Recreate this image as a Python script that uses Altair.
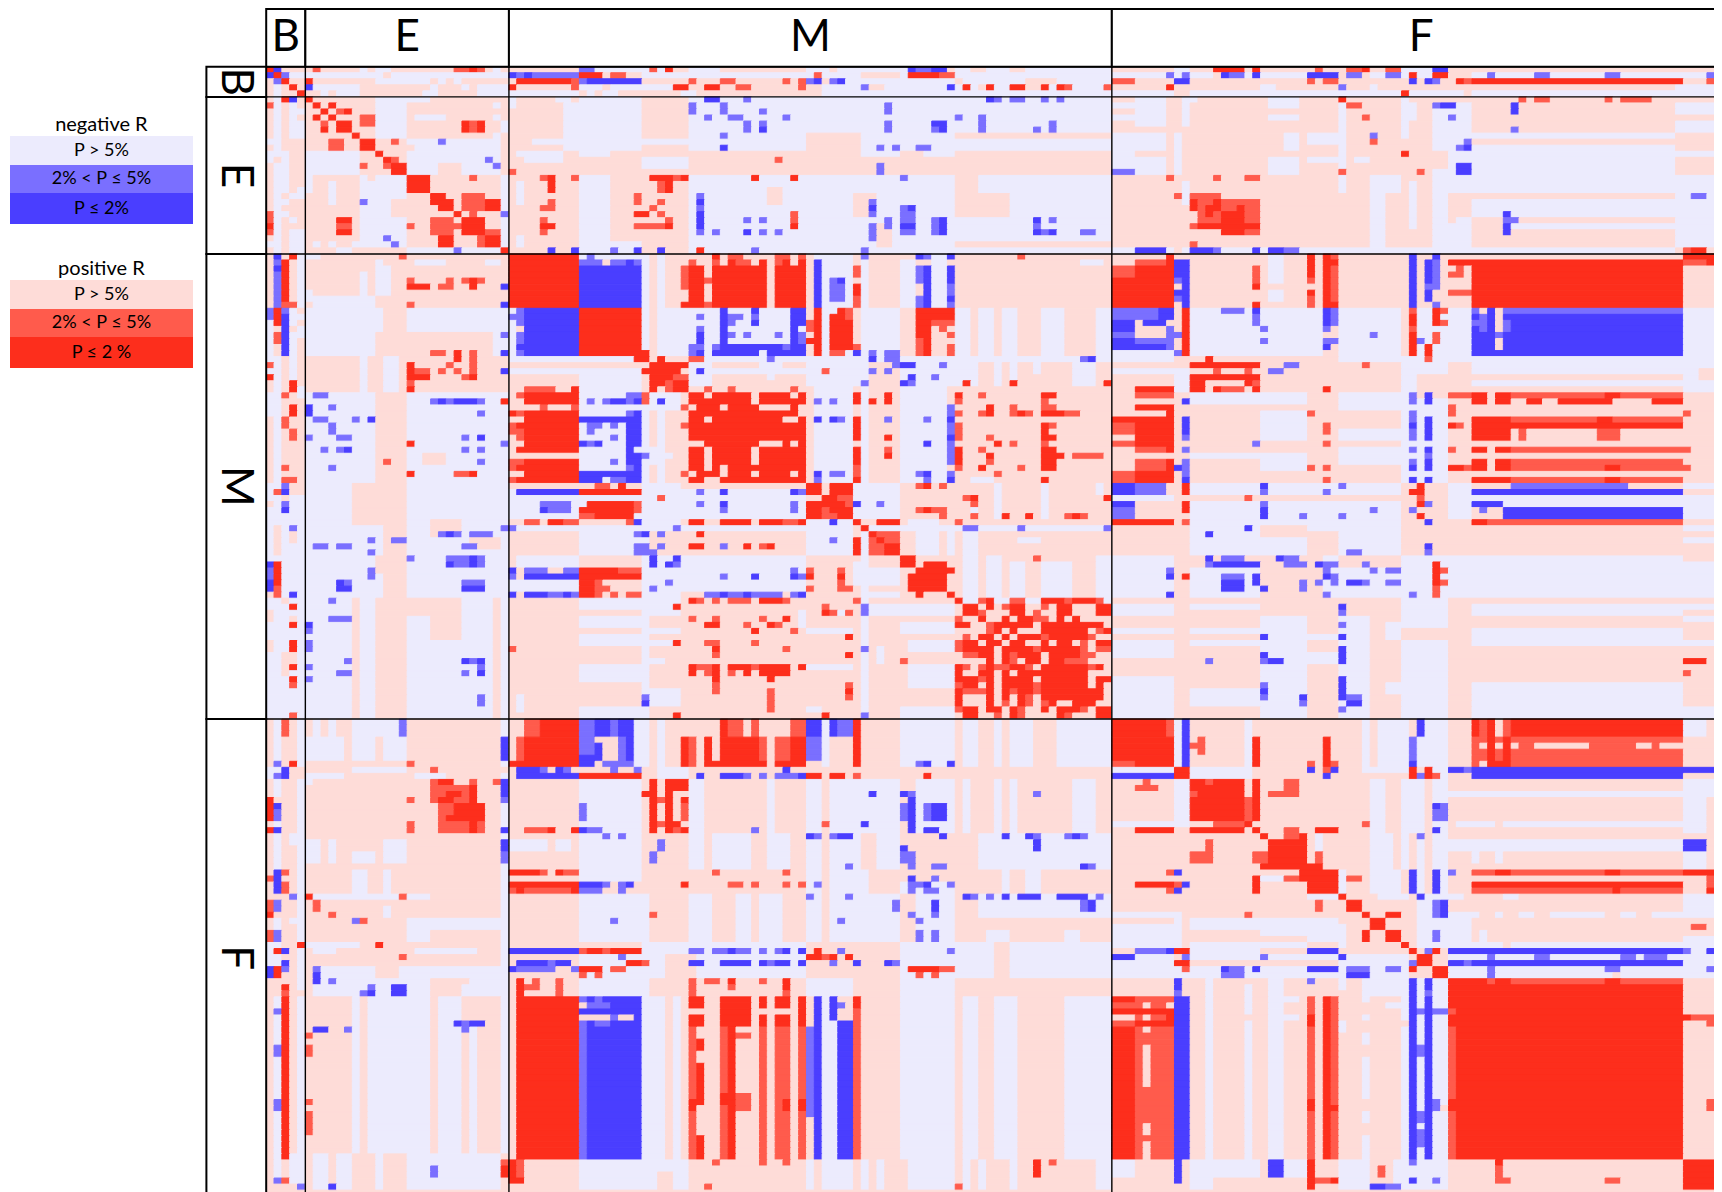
import numpy as np
import pandas as pd
import altair as alt

GROUPS = ["B", "E", "M", "F"]
GROUP_SIZES = [5, 26, 77, 79]
LEVELS = ["pos_ns", "neg_ns", "neg_mid", "neg_strong", "pos_mid", "pos_strong"]
COLORS = ["#fedcd8", "#ecebfd", "#7a6fff", "#4a3eff", "#ff5b4c", "#fd2e1c"]
LEGEND_NEG = ["P > 5%", "2% < P \u2264  5%", "P \u2264 2%"]
LEGEND_POS = ["P > 5%", "2% < P \u2264  5%", "P \u2264 2 %"]
P_, L_, m_, b_, o_, r_ = range(6)

N = sum(GROUP_SIZES)
OFF = dict(zip(GROUPS, np.cumsum([0] + GROUP_SIZES[:-1]).tolist()))
grid = np.zeros((N, N), dtype=int)


def paint(rb, cb, level, text, mirror=True):
    for item in text.split(","):
        if not item.strip():
            continue
        a, b, c, d = [int(v) for v in item.split()]
        a += OFF[rb]; b += OFF[rb]; c += OFF[cb]; d += OFF[cb]
        grid[a:b, c:d] = level
        if mirror:
            grid[c:d, a:b] = level


# ---- B x B, B x E, E x E
BB = [(L_, "1 2 3 5, 3 5 1 2, 0 2 0 0"), (r_, "0 1 0 1, 1 2 1 2, 2 3 2 3, 3 4 3 4, 4 5 4 5"), (b_, "0 1 1 2"), (m_, "1 2 2 3")]
BE = [
    (L_, "0 1 12 13, 0 1 14 16, 0 1 29 30, 1 2 5 31, 2 3 14 21, 2 3 22 23, 2 3 24 25, 3 4 6 12, 3 4 21 22, 3 4 25 26, 3 4 27 31, 4 5 7 8, 4 5 9 12, 4 5 20 22, 4 5 27 31"),
    (P_, "1 2 15 16"),
    (o_, "0 1 6 7, 0 1 24 26, 0 1 27 28"), (r_, "0 1 26 27, 2 3 5 6"), (b_, "3 4 5 6"),
]
EE = [
    (L_, "0 7 9 13, 0 1 13 16, 1 2 24 25, 3 4 14 18, 3 4 24 25, 4 6 25 26, 6 7 24 25, 7 13 13 25, 9 10 5 7, 13 25 25 26, 7 9 13 14, 23 25 25 26"),
    (P_, "8 9 13 14, 11 13 17 20, 13 16 21 24"),
    (o_, "2 3 4 5, 3 4 8 9, 4 6 21 22, 7 9 3 5, 7 8 11 12, 10 11 11 12, 11 12 7 8, 13 14 21 22, 16 19 20 23, 19 20 21 22, 22 23 23 25, 21 22 13 14, 22 25 22 23"),
    (r_, "0 1 0 1, 1 2 1 2, 1 2 3 4, 2 3 2 3, 2 3 5 6, 3 4 1 2, 3 4 3 4, 4 6 4 6, 4 6 20 21, 4 6 22 23, 6 7 6 7, 7 9 7 9, 9 10 9 10, 10 11 10 11, 11 12 11 12, 12 13 11 13, 13 16 13 16, 16 17 16 18, 17 18 16 19, 18 19 17 19, 17 19 23 25, 19 20 19 20, 20 23 20 23, 23 25 23 25, 25 26 25 26"),
    (m_, "7 8 17 18, 10 11 23 24, 11 12 24 25, 19 20 25 26, 25 26 19 20"),
]
for lv, t in BB: paint("B", "B", lv, t)
for lv, t in BE:
    shifted = ",".join(f"{a} {b} {int(c)-5} {int(d)-5}" for a, b, c, d in (i.split() for i in t.split(",")))
    paint("B", "E", lv, shifted)
for lv, t in EE: paint("E", "E", lv, t)

# ---- M x M
MM = [
    (L_, "0 17 17 18, 0 9 19 20, 9 17 19 27, 9 17 28 38, 0 38 39 44, 0 38 45 46, 1 9 50 52, 0 9 54 56, 9 17 46 50, 9 17 57 59, 9 17 60 62, 9 17 63 65, 9 17 68 71, 9 17 75 77, 0 1 9 17, 1 2 73 76, "
         "17 22 23 26, 17 18 23 38, 19 20 23 38, 18 19 32 35, 20 21 33 34, 17 22 38 40, 17 22 44 46, 17 22 50 57, 17 18 40 44, 17 18 46 50, 17 22 57 60, 17 18 60 77, 18 22 62 63, 18 22 64 65, 18 22 72 75, 18 20 67 68, "
         "22 38 50 56, 37 38 59 62, 38 44 44 50, 38 44 62 63, 38 44 68 69, 45 46 46 77, 44 45 51 55, 46 50 52 55, 46 50 56 57, 46 57 58 60, 47 48 65 68, 50 57 61 63, 51 57 64 66, 51 57 68 72, 50 57 75 77, 57 58 57 77, 38 40 75 76, 41 44 59 60, 23 24 51 53"),
    (o_, "0 1 4 9, 0 1 28 30, 0 1 34 36, 0 1 37 38, 1 2 23 24, 1 2 26 27, 1 2 29 31, 1 2 34 35, 2 6 22 23, 4 5 25 27, 4 6 35 36, 6 7 31 32, 8 9 23 24, 8 9 25 27, 2 4 44 45, 7 9 44 45, 0 1 65 66, "
         "9 10 16 17, 11 12 16 17, 16 17 9 10, 16 17 11 12, 16 17 14 17, 17 18 16 17, 11 13 38 39, 9 11 43 44, 14 17 52 53, 11 12 54 57, 13 14 56 57, 15 17 56 57, 12 13 55 56, 15 16 44 45, 16 17 41 43, "
         "17 18 23 25, 17 18 33 34, 19 20 40 41, 20 22 20 21, 20 21 21 23, 22 23 25 26, 22 23 28 29, 22 23 36 37, 24 25 57 58, 26 27 57 58, 28 31 57 58, 35 36 57 58, 26 27 60 61, 23 24 60 61, 23 24 48 49, 24 25 68 69, 25 26 64 65, 25 26 68 70, 26 27 64 65, 26 27 66 67, 26 27 71 73, 28 29 69 70, 30 31 61 62, 31 32 64 65, 31 32 68 69, 32 33 60 61, 33 34 72 76, 34 35 61 62, 35 36 65 66, 36 37 62 63, "
         "33 34 34 37, 36 37 24 27, 36 37 33 35, 37 38 32 35, 35 37 44 45, 32 33 48 49, 41 42 43 44, 40 41 42 43, 42 43 40 41, 43 44 40 41, 38 39 52 53, 38 39 55 56, 40 41 58 59, 41 42 59 60, 42 43 52 53, 42 43 54 56, 43 44 55 56, 43 44 59 60, 43 44 71 72, 43 44 73 74, 44 45 57 58, 47 48 48 50, 47 50 46 48, 50 51 51 52, 51 52 53 54, 52 53 55 56, 50 51 67 68"),
    (m_, "0 1 10 11, 1 2 9 12, 1 2 13 15, 1 2 16 17, 8 9 13 14, 8 9 16 17, 0 1 45 46, 0 1 53 54, 2 5 52 53, 7 9 52 53, 6 7 53 54, 4 8 41 43, 1 2 39 40, 5 6 56 57, 6 7 56 57, 8 9 56 57, "
         "10 11 24 25, 12 13 24 25, 15 16 24 25, 10 11 28 30, 10 11 31 32, 11 12 28 29, 13 14 28 29, 13 14 30 31, 13 14 34 35, 13 14 37 38, 15 16 26 27, 15 16 35 36, 16 17 35 36, 14 15 37 38, 15 17 23 24, 16 17 46 47, 16 18 48 50, 17 18 73 74, 17 18 33 34, 18 19 49 50, 18 19 55 56, 19 20 46 47, 19 20 48 49, 20 21 54 55, 21 22 45 46, 21 22 51 52, "
         "24 25 39 40, 24 25 41 42, 27 28 42 43, 27 28 48 49, 27 28 53 54, 25 26 56 57, 26 27 56 57, 28 31 56 57, 31 34 56 57, 34 35 56 57, 36 37 56 57, 36 37 41 43, 36 37 52 53, 37 38 39 40, 37 38 53 54, 41 42 47 48, 45 46 58 60, 45 46 65 66, 45 46 76 77, 57 58 68 69"),
    (b_, "2 9 9 17, 1 2 15 16, 0 1 52 53, 0 1 56 57, 2 9 53 54, 2 5 56 57, 7 8 56 57, 1 9 39 40, 4 5 42 43, 9 16 27 28, 9 10 31 32, 11 12 31 32, 13 15 24 25, 15 16 27 34, 16 17 24 25, 16 17 26 32, 16 17 33 36, 15 16 34 35, 15 17 36 38, 9 12 36 38, 12 14 36 37, 14 15 36 37, "
         "16 17 44 45, 17 18 46 47, 18 19 50 52, 19 20 24 25, 20 21 51 52, 21 22 50 51, 17 18 74 75, 27 28 39 40, 27 28 41 42, 27 28 56 57, 30 31 56 57, 31 32 53 54, 36 37 39 40, 36 37 53 54, 37 38 56 57, 41 42 44 45, 44 45 41 42"),
    (r_, "0 9 0 9, 9 17 9 17, 0 1 26 27, 1 2 28 29, 1 2 32 33, 1 2 35 36, 1 2 37 38, 2 9 23 25, 2 9 26 33, 2 9 34 38, 8 9 22 23, 5 7 44 45, "
         "9 17 39 40, 14 15 38 39, 9 10 42 43, 10 16 41 43, 11 16 43 44, 9 11 52 57, 11 14 52 54, 14 17 53 54, 16 18 17 18, "
         "18 19 19 23, 19 20 17 22, 18 19 18 19, 20 21 18 21, 21 23 21 23, 21 23 18 19, 21 22 58 59, 21 22 64 65, 21 22 76 77, "
         "23 38 23 38, 23 25 44 45, 27 31 44 45, 32 35 44 45, 37 38 44 45, 24 25 46 47, 24 25 48 49, 23 24 48 49, 30 31 48 49, 33 34 48 49, "
         "23 24 57 58, 23 24 68 70, 25 26 61 62, 26 27 61 62, 26 27 65 66, 26 27 68 71, 28 30 68 69, 30 31 68 70, 31 32 62 63, 32 34 57 58, 32 33 68 70, 33 34 61 62, 33 34 68 71, 34 35 57 58, 34 35 68 70, 35 36 60 61, 35 36 68 70, 37 38 68 69, "
         "38 40 38 40, 38 40 41 44, 40 41 40 42, 41 42 38 43, 42 43 39 40, 42 44 42 44, 43 44 38 40, 44 45 44 45, 44 45 47 50, 38 39 53 54, 42 43 53 54, 40 41 59 60, 40 41 76 77, 43 44 63 64, 43 44 66 67, 43 44 72 73, "
         "45 46 45 46, 46 47 46 47, 47 48 47 48, 47 50 44 45, 48 50 48 50, 50 51 50 51, 51 52 50 52, 51 52 54 56, 52 53 52 55, 52 53 56 57, 53 56 51 56, 56 57 52 53, 56 57 56 57"),
    (P_, "23 25 31 32, 23 24 25 26, 23 24 36 37, 25 26 33 36, 27 28 25 26, 27 28 35 37, 31 32 33 35, 31 32 36 37, 32 35 31 32, 32 34 25 26, 36 37 27 28, 36 37 31 32, 36 37 36 37, 37 38 25 27"),
]
for lv, t in MM: paint("M", "M", lv, t)

MM_SCATTER = {
    57: ("57-58 61-62 68-71 72-75", "60-61 64-66 71-72 75-76"),
    58: ("58-60 61-62 64-66 70-72 75-77", "63-64 68-69"),
    59: ("58-60 64-66 70-72 75-77", "60-61 67-68"),
    60: ("60-61 63-64 65-67 70-71 72-73", "57-58 67-69"),
    61: ("57-59 62-67 68-76", "61-62"),
    62: ("62-63 64-65 68-74 76-77", "61-62 75-76"),
    63: ("60-62 63-64 65-68 69-74", "58-59 68-69 74-75"),
    64: ("58-60 61-63 64-66 68-69 70-72 75-77", "57-58 73-74"),
    65: ("58-62 63-67 68-73", "57-58 67-68 73-74 75-77"),
    66: ("60-62 63-64 65-68 69-73", "58-60 64-65 73-75"),
    67: ("61-62 63-64 66-68 69-71", "64-65 71-74"),
    68: ("57-58 61-62 64-66 68-74 75-76", "58-59 60-61 62-64 66-67 74-75"),
    69: ("57-58 60-62 63-64 65-74", ""),
    70: ("57-60 61-62 63-67 68-74 75-77", "60-61"),
    71: ("58-60 61-62 63-67 68-74 75-76", "57-58 67-68"),
    72: ("57-58 61-62 63-64 65-67 68-76", "58-61 64-65 67-68"),
    73: ("57-58 61-62 63-64 65-66 68-76", "66-67"),
    74: ("57-58 61-62 65-66 69-70 72-75", "63-64 66-67 68-69"),
    75: ("58-60 61-63 64-65 68-69 70-73 75-77", "57-58 65-66 73-74"),
    76: ("58-60 64-65 70-71 75-77", "62-63 65-66 71-72"),
}
grid[OFF["M"] + 58:OFF["M"] + 77, OFF["M"] + 57:OFF["M"] + 77] = P_
for row, (reds, mids) in MM_SCATTER.items():
    for lv, s in ((o_, mids), (r_, reds)):
        for run in s.split():
            c0, c1 = [int(v) for v in run.split("-")]
            paint("M", "M", lv, f"{row} {row+1} {c0} {c1}", mirror=False)

# ---- M rows x B columns
MB = [
    (L_, "9 18 0 1, 19 20 0 1, 23 27 0 1, 38 41 0 1, 42 51 0 1, 57 59 0 1, 61 64 0 1, 66 77 0 1, 17 45 1 2, 50 77 1 2, 43 57 2 3, 58 66 2 3, 70 77 2 3, 9 21 3 4, 40 77 3 4, 0 9 4 5, 10 11 4 5, 12 14 4 5, 22 24 4 5, 40 77 4 5"),
    (P_, "12 13 3 4, 45 48 3 4, 60 62 3 4, 66 68 3 4"),
    (m_, "9 11 0 1, 18 19 0 1, 1 2 1 2, 3 9 1 2, 9 10 2 3, 38 39 2 3, 41 42 2 3, 45 46 3 4, 52 54 0 1"),
    (b_, "0 1 1 2, 2 3 1 2, 10 17 2 3, 39 40 2 3, 42 43 2 3, 51 52 0 1, 54 56 0 1, 56 57 3 4"),
    (o_, "13 15 1 2, 8 9 2 4, 23 24 2 3, 27 29 2 3, 35 36 2 3, 37 38 2 4, 29 31 3 4, 39 40 1 2, 55 57 1 2, 18 19 0 1, 71 72 3 4, 76 77 3 4"),
    (r_, "20 21 0 1, 9 12 1 2, 1 8 2 3, 0 1 3 4, 21 23 3 4, 25 27 3 4, 51 55 1 2, 58 59 3 4, 61 62 3 4, 64 66 3 4, 68 69 3 4, 70 71 3 4"),
]
# ---- M rows x E columns
ME = [
    (L_, "0 1 0 2, 1 2 9 10, 1 2 14 18, 1 2 23 25, 3 7 7 8, 2 7 9 11, 6 8 0 1, 7 9 1 9, 9 17 0 9, 9 13 13 26, 13 17 24 26, 9 13 9 10, 17 23 7 8, 17 23 10 12, 23 38 0 9, 23 38 13 26, 38 45 0 6, 38 45 13 26, 45 57 0 10, 45 57 13 26, 57 77 0 6, 57 77 7 9, 57 77 16 24, 57 77 25 26, 60 77 13 16"),
    (P_, "14 17 13 24, 33 35 15 18, 44 47 16 20, 47 49 21 25, 50 53 9 11, 57 64 16 20"),
    (m_, "23 24 1 3, 24 25 16 17, 24 25 18 19, 24 25 22 23, 25 26 3 4, 26 27 22 23, 27 28 1 3, 27 28 6 7, 28 30 3 4, 30 31 0 1, 30 31 4 6, 30 31 20 21, 31 32 25 26, 32 33 2 3, 32 33 4 5, 32 33 20 21, 32 33 22 23, 34 35 22 23, 35 36 3 4, 45 46 25 26, 46 47 17 18, 46 47 19 20, 46 47 21 24, 47 48 8 9, 47 48 11 13, 48 49 1 3, 48 49 4 6, 48 49 20 22, 49 50 8 9, 50 51 13 14, 50 51 18 21, 50 51 22 23, 51 52 19 21, 51 52 22 23, 52 54 8 9, 54 55 5 6, 54 55 20 23, 57 58 3 4, 60 61 3 6, 62 63 0 1, 64 66 0 1, 67 68 5 6, 67 68 21 22, 68 69 0 1, 68 69 22 23, 69 70 4 6, 69 70 20 21, 70 71 0 1, 73 75 22 23, 13 14 25 26, 19 20 25 26"),
    (b_, "5 6 25 26, 8 9 25 26, 16 17 25 26, 19 20 25 26, 24 25 17 18, 24 25 19 22, 25 27 0 1, 27 28 8 9, 30 31 22 23, 32 33 5 6, 46 47 18 19, 50 51 21 22, 51 52 18 19, 51 52 21 22, 54 55 4 5, 55 56 4 6, 55 56 20 23, 61 62 0 1, 67 68 20 21, 67 68 22 23, 69 70 22 23"),
    (o_, "0 1 12 13, 4 5 13 14, 4 5 18 19, 4 5 20 21, 4 5 22 23, 5 6 17 19, 8 9 13 14, 16 17 16 18, 16 20 21 22, 18 19 18 19, 19 20 14 16, 19 20 17 18, 19 20 19 20, 20 21 20 21, 21 22 13 14, 34 35 10 11, 36 37 19 21"),
    (r_, "4 5 21 22, 5 6 13 16, 5 6 21 22, 16 17 19 20, 17 18 19 20, 18 20 13 14, 20 21 13 16, 20 21 21 22, 22 23 13 14, 24 25 25 26, 31 32 13 14, 36 37 13 14, 36 37 21 22"),
]
# ---- F rows x B, E columns
FB = [
    (L_, "0 7 1 2, 8 10 0 2, 10 13 1 2, 17 25 1 2, 33 35 1 2, 37 41 0 2, 46 77 1 2, 0 8 4 5, 10 45 4 5, 46 72 4 5, 72 77 3 5, 73 77 1 2, 19 21 3 4, 33 34 3 4"),
    (m_, "7 8 1 2, 9 10 1 2, 15 17 1 2, 30 32 1 2, 35 37 1 2, 48 49 1 2, 54 56 1 2, 63 65 1 2, 76 77 1 2, 29 30 3 4, 41 42 2 3, 0 0 0 0, 77 78 4 5"),
    (b_, "14 15 1 2, 18 19 1 2, 25 29 1 2, 8 10 2 3, 38 39 2 3, 40 41 2 3, 41 43 0 1"),
    (o_, "26 27 0 1, 30 32 0 1, 35 37 0 1, 0 3 2 3, 25 26 2 3, 27 29 2 3, 76 77 2 3, 45 46 2 3"),
    (r_, "13 17 0 1, 18 19 0 1, 32 33 0 1, 38 39 1 2, 41 43 1 2, 7 8 3 4, 37 38 4 5, 44 45 2 3, 46 73 2 3"),
]
FE = [
    (L_, "0 3 1 2, 0 3 3 4, 0 3 6 12, 3 7 0 5, 3 7 6 9, 3 7 10 13, 0 8 25 26, 8 9 6 13, 9 10 0 5, 9 10 14 18, 10 11 0 1, 20 24 0 2, 20 24 3 4, 22 24 6 9, 20 24 10 13, 25 29 6 8, 25 29 10 11, 29 30 0 12, 29 30 13 16, 33 35 13 25, 35 37 13 16, 37 38 0 7, 38 39 1 4, 38 39 14 22, 41 46 1 26, 46 72 6 7, 46 72 8 16, 46 72 17 20, 50 72 21 22, 9 46 25 26, 46 72 25 26, 72 78 1 2, 72 78 2 3, 72 78 4 6, 72 78 9 10, 72 78 13 25, 31 33 10 11"),
    (P_, "41 43 9 12, 44 46 16 20, 43 44 16 21"),
    (m_, "0 3 12 13, 30 32 1 2, 33 34 6 7, 41 42 1 2, 43 44 3 4, 44 45 8 9, 45 46 7 8, 50 51 20 21, 51 52 5 6, 51 52 20 21, 74 76 16 17, 13 14 25 26, 22 24 25 26"),
    (b_, "3 7 25 26, 10 13 25 26, 18 19 25 26, 20 22 25 26, 42 44 1 2, 44 46 11 13, 45 46 8 9, 50 51 19 20, 50 51 21 23, 51 52 1 3, 77 78 3 4"),
    (o_, "7 8 13 14, 8 9 16 17, 10 13 16 17, 10 11 21 22, 10 11 24 25, 11 12 17 21, 12 13 17 18, 12 13 20 21, 13 14 13 14, 13 14 16 17, 13 14 19 21, 14 17 17 19, 17 19 13 14, 17 19 17 21, 17 19 22 23, 29 30 12 13, 30 32 1 2, 32 33 3 4, 33 34 7 8, 39 40 12 13, 52 53 0 1, 54 56 0 1, 63 64 0 1, 65 69 0 1, 73 74 25 26"),
    (r_, "10 11 17 19, 11 12 21 22, 12 13 18 20, 12 13 21 22, 13 14 17 19, 13 14 21 22, 14 16 19 23, 16 17 18 23, 17 19 21 22, 29 30 0 1, 37 38 9 10, 74 76 25 26"),
]
# ---- F rows x M columns
FM = [
    (L_, "0 8 16 18, 0 8 19 20, 0 8 40 41, 0 8 50 57, 0 8 58 60, 0 8 62 63, 0 8 64 67, 0 8 70 77, 8 10 19 23, 10 19 9 17, 10 19 23 25, 10 19 33 34, 10 19 38 40, 10 19 41 50, 10 19 52 57, 10 19 58 59, 10 19 62 63, 10 19 64 65, 10 19 72 75, "
         "19 25 9 17, 20 22 0 5, 20 22 6 8, 19 25 23 25, 19 25 26 31, 19 25 33 36, 19 25 38 40, 19 25 41 45, 19 25 47 50, 19 25 60 77, 25 27 9 17, 25 29 38 40, 25 29 41 46, 27 29 50 57, 25 29 63 64, 25 29 66 68, "
         "29 37 9 18, 29 37 23 26, 29 37 29 31, 29 37 32 35, 29 37 38 40, 29 37 41 50, 29 37 52 57, 29 33 60 77, 35 37 61 64, 35 37 71 73, 37 43 17 38, 39 46 9 18, 43 46 38 44, 43 46 50 57, 37 43 50 62, 37 43 64 77, "
         "46 73 17 20, 46 73 21 22, 46 73 40 42, 46 73 50 57, 46 73 58 60, 46 73 62 65, 46 73 71 77, 73 78 9 23, 73 78 38 39, 73 78 40 44, 73 78 45 46, 73 78 47 48, 73 78 51 57, 73 78 58 59, 73 78 60 61, 73 78 64 65, 73 78 75 77"),
    (P_, "37 39 38 42, 39 43 20 24, 75 78 19 21"),
    (o_, "0 3 2 4, 3 7 1 2, 0 3 28 30, 0 3 31 32, 0 3 36 38, 3 7 23 24, 3 7 32 33, 3 7 34 36, 7 8 23 24, 9 10 44 45, 10 12 20 21, 12 13 18 19, 12 13 20 21, 13 14 19 20, 14 17 22 23, 17 18 19 20, 17 18 40 41, 18 19 2 5, 18 19 21 22, 25 26 4 5, 25 26 7 9, 25 26 26 27, 25 26 35 36, 27 28 28 30, 27 28 31 32, 27 28 35 36, 27 28 37 38, 28 29 0 1, 28 29 2 8, 32 33 18 19, 38 39 9 10, 38 39 12 13, 39 40 40 41, 40 41 17 18, 41 42 13 15, 41 42 55 57, 42 43 9 10, 42 43 11 12, 42 43 52 53, 42 43 54 55, 43 44 3 4, 43 44 6 7, 43 44 23 24, 43 44 25 27, 43 44 32 33, 44 45 2 4, 44 45 6 7, 44 45 23 24, 44 45 28 29, 45 46 6 7, 45 46 23 24, 45 46 35 36, 51 73 23 24, 51 73 27 28, 52 53 29 31, 62 65 29 31, 51 73 32 33, 51 73 34 36, 51 73 37 38, 48 73 44 45, 73 74 0 2, 74 76 1 2, 73 74 26 27, 73 74 32 33, 73 74 35 36, 73 74 69 70, 77 78 25 26, 77 78 57 58, 33 34 0 0"),
    (m_, "0 3 9 11, 0 3 13 14, 0 3 42 44, 3 8 9 11, 3 7 14 15, 3 7 38 40, 7 8 12 16, 7 8 52 53, 8 9 4 5, 8 9 7 8, 8 9 13 14, 8 9 16 17, 9 10 30 31, 9 10 32 33, 9 10 34 37, 12 13 51 52, 12 13 67 68, 14 17 9 10, 14 17 50 51, 14 17 53 54, 18 19 10 12, 18 19 31 32, 19 20 12 13, 19 20 14 15, 19 20 39 40, 19 20 41 42, 19 20 67 68, 19 20 71 72, 19 20 73 74, 20 22 19 20, 22 24 18 19, 22 24 50 52, 24 25 43 44, 24 25 51 52, 24 25 54 56, 24 25 74 75, 26 27 54 55, 27 28 12 13, 27 28 14 15, 27 28 39 40, 27 28 51 53, 27 28 56 57, 28 29 9 12, 28 29 14 15, 28 29 51 52, 28 29 53 55, 29 30 38 39, 29 30 43 44, 29 30 59 60, 29 30 61 62, 29 30 75 76, 30 32 49 50, 30 32 73 74, 32 33 51 52, 32 33 54 55, 33 34 13 14, 33 34 42 43, 33 34 52 53, 35 37 52 53, 35 37 54 55, 38 39 23 25, 38 39 26 28, 38 39 29 31, 38 39 32 33, 38 39 34 35, 38 39 42 43, 38 39 56 57, 39 40 14 15, 40 41 5 6, 40 41 33 34, 40 41 41 42, 40 41 49 50, 41 42 1 6, 41 42 8 9, 46 47 9 10, 46 47 11 12, 47 48 10 13, 49 50 13 14, 50 51 9 10, 50 51 11 13, 51 73 9 10, 51 66 38 39, 47 48 42 43"),
    (b_, "0 3 11 13, 0 3 14 16, 0 3 38 40, 0 3 41 42, 4 7 11 12, 3 7 15 16, 6 8 9 11, 7 8 53 54, 7 8 56 57, 8 9 1 4, 8 9 6 7, 8 9 35 36, 9 10 1 9, 9 10 24 25, 9 10 27 30, 9 10 37 38, 12 13 46 47, 12 13 50 51, 13 14 51 52, 14 17 51 52, 14 17 54 56, 17 18 45 46, 17 19 51 52, 18 19 9 10, 18 19 53 55, 19 20 38 39, 19 20 42 44, 19 20 55 56, 19 20 63 64, 19 20 66 67, 19 20 72 73, 20 22 67 68, 21 22 50 51, 24 25 73 74, 26 27 51 52, 27 28 9 12, 27 28 15 16, 27 28 53 54, 29 30 58 59, 29 30 63 64, 29 30 65 68, 29 30 70 74, 30 32 54 55, 30 32 74 75, 38 39 0 9, 38 39 28 29, 38 39 35 36, 38 39 37 38, 40 41 1 5, 40 41 6 8, 40 41 23 25, 40 41 27 31, 40 41 32 33, 40 41 34 36, 40 41 37 38, 40 41 44 45, 40 41 48 49, 41 42 0 1, "
         "46 47 10 11, 46 47 12 17, 47 48 13 17, 48 49 9 17, 49 50 16 17, 50 51 10 11, 50 51 13 17, 51 73 10 17, 46 73 39 40, 50 73 42 44, 46 50 41 42"),
    (r_, "0 7 4 9, 3 7 2 4, 0 3 27 28, 0 3 44 45, 3 7 22 23, 3 7 25 26, 3 7 27 32, 3 7 36 38, 3 8 44 45, 7 8 0 9, 7 8 22 23, 7 8 25 33, 7 8 34 38, 9 10 9 17, 9 10 38 40, 9 10 41 43, 9 10 53 54, 10 19 18 19, 10 19 20 21, 10 12 21 23, 12 13 17 18, 13 14 22 23, 17 18 20 22, 18 19 5 6, 18 19 8 9, 18 19 22 23, 25 26 0 4, 25 26 6 7, 27 28 0 9, 27 28 22 23, 28 29 1 2, 28 29 8 9, 38 39 10 12, 38 39 13 17, 38 39 39 40, 39 40 38 40, 39 40 41 42, 39 40 43 44, 40 41 15 17, 41 42 9 12, 41 42 51 55, 43 46 1 2, 43 44 28 29, 43 45 35 36, "
         "46 73 1 9, 46 48 23 25, 49 51 23 25, 46 51 27 31, 46 48 32 33, 49 51 32 33, 46 48 34 36, 49 51 34 36, 46 51 37 38, 46 48 44 45, 53 55 24 25, 57 64 24 25, 69 73 24 25, 51 73 28 29, 62 64 27 29, 63 65 23 24, 63 65 35 36, 63 65 37 38, 73 76 0 1, 76 77 0 2, 73 76 67 68"),
]
# ---- F x F
FF = [
    (L_, "0 8 8 9, 0 8 17 18, 0 8 32 33, 0 8 34 38, 0 8 39 43, 0 3 73 76, 8 10 10 14, 8 10 14 18, 8 9 32 38, 8 10 40 43, 10 19 33 35, 10 19 37 40, 10 19 41 43, 10 13 73 78, 13 19 73 76, 12 13 43 73, 17 18 44 49, 17 18 50 73, 19 25 26 27, 19 25 33 36, 19 25 37 38, 19 25 39 40, 19 25 41 43, 20 22 43 73, 22 24 46 47, 22 24 49 50, 22 25 73 76, 25 29 29 30, 25 29 33 37, 25 29 39 40, 25 29 41 43, 29 30 34 38, 29 30 40 45, 29 30 50 52, 30 37 39 43, 32 33 43 47, 32 33 49 50, 32 33 52 54, 32 33 56 63, 32 33 65 67, 32 33 69 73, 33 37 42 46, 35 37 47 48, 37 38 39 50, 37 38 51 73, 39 40 43 48, 39 40 50 73, 41 42 43 76, 42 43 43 76, 43 73 41 43, 46 73 39 40, 73 78 38 43, 73 78 29 30, 73 78 30 33, 73 78 36 38"),
    (P_, "39 40 54 56, 42 43 64 65"),
    (o_, "0 7 7 8, 0 3 47 48, 0 3 50 51, 0 3 63 64, 3 7 46 48, 3 7 49 50, 3 8 51 73, 7 8 0 3, 7 8 25 26, 7 8 28 29, 7 8 46 47, 8 9 40 41, 9 10 39 40, 9 10 41 42, 3 5 11 12, 10 11 4 5, 11 12 3 6, 10 12 12 13, 10 12 22 24, 12 13 10 11, 12 13 20 24, 13 17 17 18, 17 18 13 17, 17 18 32 33, 18 19 22 24, 19 20 22 24, 20 22 12 13, 22 24 10 13, 22 24 18 20, 22 24 26 27, 25 26 7 8, 25 26 46 47, 25 26 48 49, 25 26 51 63, 25 26 65 73, 26 27 22 24, 26 27 30 32, 26 27 38 39, 27 28 8 9, 27 28 46 47, 27 28 49 50, 28 29 46 47, 28 29 48 49, 28 29 50 64, 28 29 65 73, 28 29 76 77, 30 32 26 27, 34 35 74 76, 38 39 40 41, 43 44 48 49, 43 44 51 64, 43 44 65 73, 44 45 48 49, 45 46 48 51, 46 47 3 8, 47 48 0 4, 47 48 5 7, 48 49 43 45, 49 50 45 46, 49 50 74 76, 50 51 45 46, 50 51 76 77, 51 73 3 8, 46 73 25 26, 46 73 28 29, 51 73 43 44, 63 65 76 77, 74 76 34 35, 74 77 49 50, 76 77 26 28, 76 77 63 65, 63 64 0 3"),
    (m_, "0 8 0 0, 8 9 45 46, 14 15 42 43, 15 17 41 43, 25 26 43 44, 29 30 39 40, 30 32 41 42, 32 33 41 42, 35 37 41 42, 35 37 77 78, 38 39 3 7, 38 39 26 27, 38 39 45 46, 38 39 73 74, 39 40 9 10, 39 40 19 20, 39 40 48 49, 39 40 54 56, 39 40 66 67, 39 40 69 71, 40 41 8 9, 40 41 38 39, 40 41 43 44, 40 41 45 46, 41 42 15 17, 41 42 30 33, 41 42 35 37, 41 42 48 49, 41 42 64 65, 41 42 76 77, 42 43 14 17, 43 44 25 26, 43 44 40 41, 45 46 8 9, 45 46 38 39, 45 46 40 41, 48 49 41 43, 54 56 39 40, 63 65 41 42, 65 66 39 40, 68 70 39 40, 76 77 41 42, 77 78 35 37"),
    (b_, "0 8 9 10, 0 3 39 40, 8 9 25 26, 8 9 28 29, 8 9 43 45, 8 9 46 76, 9 10 0 8, 9 10 27 28, 9 10 46 73, 14 15 41 42, 18 19 41 42, 20 22 73 76, 25 26 8 9, 25 29 38 39, 25 29 41 42, 27 28 9 10, 28 29 8 9, 29 30 39 40, 30 32 42 43, 33 35 77 78, 38 39 7 8, 38 39 25 26, 38 39 27 29, 38 39 43 45, 38 39 46 73, 38 39 76 77, 39 40 0 3, 39 40 29 30, 40 41 44 45, 40 41 46 73, 41 42 14 15, 41 42 18 19, 41 42 25 29, 42 43 30 33, 43 45 8 9, 43 46 38 39, 43 45 40 41, 46 73 8 10, 46 73 38 39, 46 73 40 41, 73 77 8 9, 73 76 20 22, 76 77 38 39, 77 78 33 35"),
    (r_, "0 3 0 7, 3 7 0 8, 7 8 3 8, 0 3 46 47, 0 3 48 49, 0 3 51 63, 0 3 64 73, 3 7 18 19, 7 8 18 19, 7 8 27 28, 3 7 27 28, 3 7 48 49, 3 7 50 51, 7 8 48 51, 8 10 8 10, 8 9 38 39, 8 9 40 41, 9 10 38 39, 9 10 40 41, 10 12 10 12, 10 17 13 17, 10 17 18 19, 11 12 12 13, 12 17 11 17, 13 17 10 13, 17 18 17 18, 18 19 3 8, 18 19 10 12, 18 19 13 17, 18 19 18 19, 18 19 26 29, 19 20 19 20, 19 20 24 25, 20 24 20 25, 24 25 19 26, 25 29 25 29, 25 26 49 51, 25 26 63 65, 25 26 73 77, 26 27 24 25, 27 28 3 8, 27 28 18 19, 27 28 48 49, 27 28 50 73, 28 29 18 19, 28 29 64 65, 29 30 29 30, 30 32 30 32, 32 33 32 33, 32 33 35 37, 33 35 33 35, 35 37 32 33, 35 37 35 37, 37 38 37 38, 38 39 8 10, 38 39 38 39, 38 39 41 42, 39 41 39 41, 41 43 41 43, 43 46 43 48, 43 44 49 51, 43 44 64 65, 44 45 49 73, 45 46 51 73, 46 73 44 73, 46 48 43 44, 46 47 0 3, 46 73 27 28, 48 49 0 8, 48 49 45 73, 50 51 3 8, 51 73 0 3, 63 64 43 44, 73 74 49 50, 73 78 73 77, 73 78 25 26, 76 77 28 29, 78 79 77 78, 77 78 77 78"),
    (P_, "51 52 4 5, 54 61 4 5, 67 68 4 5, 70 73 4 5, 49 50 4 5, 47 48 4 5, 47 48 7 8, 4 5 54 61, 4 5 47 48, 4 5 49 50, 4 5 67 69, 4 5 71 73, 4 5 51 52"),
]
for rb, cb, seq in (("M", "B", MB), ("M", "E", ME), ("F", "B", FB), ("F", "E", FE), ("F", "M", FM), ("F", "F", FF)):
    for lv, t in seq:
        paint(rb, cb, lv, t)

# ---- run-length table of cells
records = []
for i in range(N):
    row = grid[i]
    starts = np.r_[0, np.flatnonzero(np.diff(row)) + 1]
    ends = np.r_[starts[1:], N]
    for s, e in zip(starts, ends):
        records.append({"x0": int(s), "x1": int(e), "y0": i, "y1": i + 1, "level": LEVELS[row[s]]})
cells = pd.DataFrame(records)

# ---- geometry of the page: the plot starts at the 8px page margin
MARGIN = 8
CW, CH = 7.83, 6.04
LEFT, TOP = 266.2, 66.7
W, H = 1706, 1184
XMIN, XMAX = (MARGIN - LEFT) / CW, (MARGIN + W - LEFT) / CW
YMIN, YMAX = (MARGIN - TOP) / CH, (MARGIN + H - TOP) / CH
xs = alt.Scale(domain=[XMIN, XMAX], nice=False, zero=False)
ys = alt.Scale(domain=[YMAX, YMIN], nice=False, zero=False)
HEAD_X = (206.4 - LEFT) / CW
HEAD_Y = (9.0 - TOP) / CH
FONT = "Lato"

edges = np.cumsum([0] + GROUP_SIZES)
cscale = alt.Scale(domain=LEVELS, range=COLORS)
heat = alt.Chart(cells).mark_rect(strokeWidth=1.0).encode(
    x=alt.X("x0:Q", scale=xs, axis=None),
    x2="x1:Q",
    y=alt.Y("y0:Q", scale=ys, axis=None),
    y2="y1:Q",
    color=alt.Color("level:N", scale=cscale, legend=None),
    stroke=alt.Stroke("level:N", scale=cscale, legend=None),
)

col_heads = pd.DataFrame({"g": GROUPS, "a": edges[:-1], "b": edges[1:], "t": HEAD_Y, "u": 0.0, "m": (edges[:-1] + edges[1:]) / 2, "v": HEAD_Y / 2 + 0.1})
row_heads = pd.DataFrame({"g": GROUPS, "a": edges[:-1], "b": edges[1:], "l": HEAD_X, "r": 0.0, "m": (edges[:-1] + edges[1:]) / 2, "h": HEAD_X * 0.53})
col_box = alt.Chart(col_heads).mark_rect(fill="white", stroke="black", strokeWidth=2).encode(
    x=alt.X("a:Q", scale=xs), x2="b:Q", y=alt.Y("t:Q", scale=ys), y2="u:Q")
row_box = alt.Chart(row_heads).mark_rect(fill="white", stroke="black", strokeWidth=2).encode(
    x=alt.X("l:Q", scale=xs), x2="r:Q", y=alt.Y("a:Q", scale=ys), y2="b:Q")
col_txt = alt.Chart(col_heads).mark_text(font=FONT, fontSize=44, color="black").encode(
    x=alt.X("m:Q", scale=xs), y=alt.Y("v:Q", scale=ys), text="g:N")
row_txt = alt.Chart(row_heads).mark_text(font=FONT, fontSize=44, color="black", angle=90).encode(
    x=alt.X("h:Q", scale=xs), y=alt.Y("m:Q", scale=ys), text="g:N")

v_lines = pd.DataFrame({"x": edges[:-1], "y": 0.0, "y2": float(N)})
h_lines = pd.DataFrame({"y": edges[:-1], "x": 0.0, "x2": float(N)})
vr = alt.Chart(v_lines).mark_rule(color="black", strokeWidth=1.4).encode(
    x=alt.X("x:Q", scale=xs), y=alt.Y("y:Q", scale=ys), y2="y2:Q")
hr = alt.Chart(h_lines).mark_rule(color="black", strokeWidth=1.4).encode(
    y=alt.Y("y:Q", scale=ys), x=alt.X("x:Q", scale=xs), x2="x2:Q")

one = pd.DataFrame({"k": [0]})
legend = []
LX0, LX1, LC = 10 - MARGIN, 193 - MARGIN, 101.4 - MARGIN
for title, labels, tops, col_ids, ty in (
    ("negative R", LEGEND_NEG, [136, 165, 193, 224], [1, 2, 3], 125),
    ("positive R", LEGEND_POS, [280, 309, 337, 368], [0, 4, 5], 269),
):
    legend.append(alt.Chart(one).mark_text(text=title, font=FONT, fontSize=20, color="black").encode(
        x=alt.value(LC), y=alt.value(ty - MARGIN)))
    for j, (lab, cid) in enumerate(zip(labels, col_ids)):
        legend.append(alt.Chart(one).mark_rect(color=COLORS[cid]).encode(
            x=alt.value(LX0), x2=alt.value(LX1), y=alt.value(tops[j] - MARGIN), y2=alt.value(tops[j + 1] - MARGIN)))
        legend.append(alt.Chart(one).mark_text(text=lab, font=FONT, fontSize=18, color="black").encode(
            x=alt.value(LC), y=alt.value((tops[j] + tops[j + 1]) / 2 - MARGIN)))

chart = alt.layer(heat, vr, hr, col_box, row_box, col_txt, row_txt, *legend).properties(
    width=W, height=H, padding=0, autosize=alt.AutoSizeParams(type="none"), background="white"
).configure_view(stroke=None)

chart.save("out.html", embed_options={"renderer": "svg", "actions": False})
